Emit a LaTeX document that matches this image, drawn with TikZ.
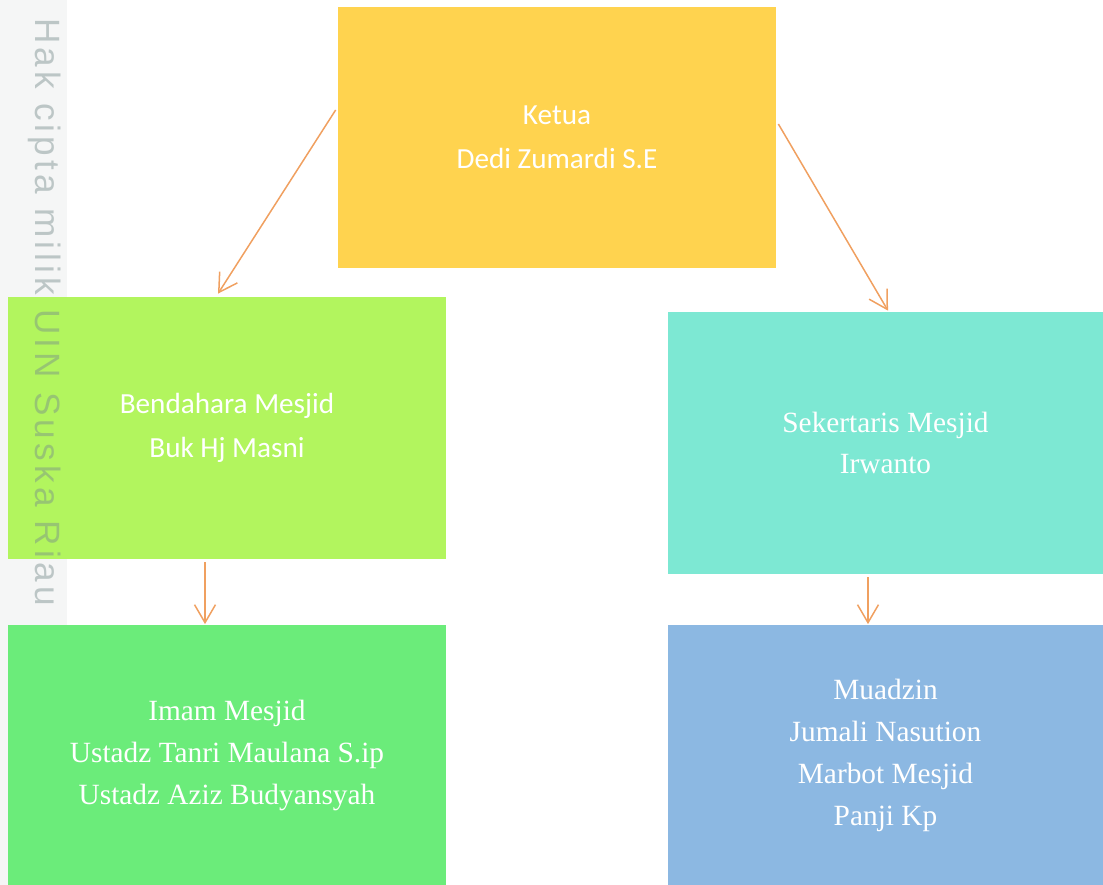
\documentclass[tikz,border=0pt]{standalone}
\usepackage{fontspec}
\setmainfont{Liberation Serif}
\newfontfamily\calibri{Carlito}
\newfontfamily\wmfont[LetterSpace=12]{Liberation Sans}
\usetikzlibrary{arrows.meta}

\definecolor{ketuacol}{RGB}{255,211,79}
\definecolor{bendcol}{RGB}{178,245,94}
\definecolor{sekcol}{RGB}{125,232,211}
\definecolor{imamcol}{RGB}{107,236,122}
\definecolor{muadcol}{RGB}{140,184,226}
\definecolor{arrowcol}{RGB}{240,160,96}
\definecolor{wmgray}{RGB}{120,140,140}
\definecolor{stripcol}{RGB}{245,246,246}

\tikzset{
  box/.style={rectangle, inner sep=0pt, text=white, align=center},
  sansbox/.style={box, font=\calibri\fontsize{16.6}{25}\selectfont},
  serifbox/.style={box, font=\fontsize{16.7}{23.8}\selectfont},
  link/.style={arrows={-{Straight Barb[length=3.6mm,width=4.2mm]}}, draw=arrowcol, line width=.3mm}
}

\begin{document}
\begin{tikzpicture}[x=0.2mm, y=-0.2mm]
\useasboundingbox (0,0) rectangle (1103,885);
\fill[stripcol] (0,0) rectangle (67,885);

\node[sansbox, fill=ketuacol, minimum width=87.6mm, minimum height=52.2mm] at (557,137.5) (ketua) {Ketua\\Dedi Zumardi S.E};
\node[sansbox, fill=bendcol, minimum width=87.6mm, minimum height=52.4mm] at (227,428) (bendahara) {Bendahara Mesjid\\Buk Hj Masni};
\node[serifbox, fill=sekcol, minimum width=87mm, minimum height=52.4mm] at (885.5,443) (sekretaris) {Sekertaris Mesjid\\Irwanto};
\node[serifbox, fill=imamcol, minimum width=87.6mm, minimum height=52.4mm] at (227,755.5) (imam) {Imam Mesjid\\Ustadz Tanri Maulana S.ip\\Ustadz Aziz Budyansyah};
\node[serifbox, fill=muadcol, minimum width=87mm, minimum height=52.4mm] at (885.5,755.5) (muadzin) {Muadzin\\Jumali Nasution\\Marbot Mesjid\\Panji Kp};

\draw[link] ([yshift=5.5mm, xshift=-0.4mm]ketua.west) to ([xshift=-1.8mm, yshift=0.6mm]bendahara.north);
\draw[link] ([yshift=2.7mm, xshift=0.4mm]ketua.east) to ([xshift=0.5mm, yshift=0.2mm]sekretaris.north);
\draw[link] ([xshift=-4.4mm, yshift=-0.6mm]bendahara.south) to ([xshift=-4.4mm]imam.north);
\draw[link] ([xshift=-3.5mm, yshift=-0.6mm]sekretaris.south) to ([xshift=-3.5mm]muadzin.north);

% watermark
\node[rotate=-90, text=wmgray, opacity=.45, font=\wmfont\fontsize{20}{22}\selectfont, inner sep=0pt] at (45,312) (mark) {Hak cipta milik UIN Suska Riau};
\end{tikzpicture}
\end{document}
